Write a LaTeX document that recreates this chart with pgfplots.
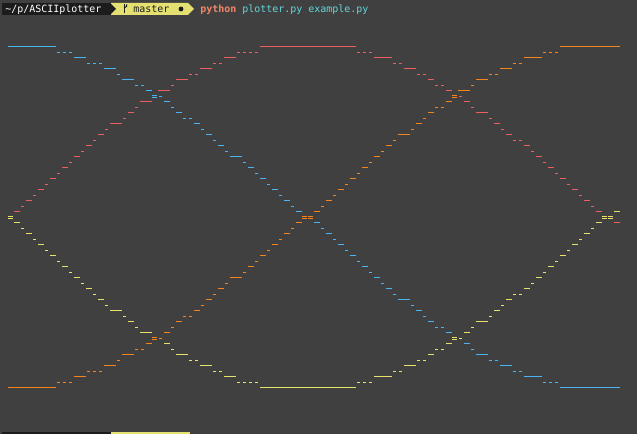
\documentclass[border=0pt]{standalone}
\usepackage{fontspec}
\usepackage{pgfplots}
\pgfplotsset{compat=1.18}
\newfontfamily\term{DejaVu Sans Mono}
\definecolor{bg}{HTML}{404040}
\definecolor{cblue}{HTML}{4AB4F2}
\definecolor{cred}{HTML}{EE5E5E}
\definecolor{corange}{HTML}{F5841F}
\definecolor{cyellow}{HTML}{E6E26A}
\definecolor{barblack}{HTML}{1C1C1C}
\definecolor{baryellow}{HTML}{E4E072}
\definecolor{cpython}{HTML}{F0876A}
\definecolor{ccyan}{HTML}{63D6DA}
% ASCII glyph marks: "_" full cell, "-" short, "=" double (aligned to the pixel grid)
\pgfdeclareplotmark{us}{\pgfpathmoveto{\pgfqpoint{-2.25pt}{0pt}}\pgfpathlineto{\pgfqpoint{2.25pt}{0pt}}\pgfusepathqstroke}
\pgfdeclareplotmark{ds}{\pgfpathmoveto{\pgfqpoint{-1.5pt}{-0.375pt}}\pgfpathlineto{\pgfqpoint{0.75pt}{-0.375pt}}\pgfusepathqstroke}
\pgfdeclareplotmark{eq}{\pgfpathmoveto{\pgfqpoint{-2.25pt}{0.375pt}}\pgfpathlineto{\pgfqpoint{1.5pt}{0.375pt}}\pgfpathmoveto{\pgfqpoint{-2.25pt}{-1.125pt}}\pgfpathlineto{\pgfqpoint{1.5pt}{-1.125pt}}\pgfusepathqstroke}
\pgfplotsset{
  usc/.style={only marks, mark=us, mark options={line width=0.75pt, solid, line cap=butt}},
  dsh/.style={only marks, mark=ds, mark options={line width=0.75pt, solid, line cap=butt}},
  eqs/.style={only marks, mark=eq, mark options={line width=0.75pt, solid, line cap=butt}},
}
\begin{document}
\begin{tikzpicture}[x=0.75pt,y=-0.75pt]
\useasboundingbox (0,0) rectangle (637,434);
\fill[bg] (0,0) rectangle (637,434);
% prompt bar
\fill[barblack] (2,3) rectangle (111,15);
\fill[baryellow] (111,3) -- (188,3) -- (194,9) -- (188,15) -- (111,15) -- cycle;
\fill[barblack] (110,3) -- (116,9) -- (110,15) -- cycle;
\node[anchor=base west, inner sep=0, text=white, font=\term\fontsize{7.48pt}{9pt}\selectfont] at (5,12.5) {\textasciitilde/p/ASCIIplotter};
\draw[barblack, line width=0.75pt] (124,4.5) -- (124,13.5);
\draw[barblack, line width=0.75pt] (124,8) -- (126.5,6.5) -- (126.5,4.5);
\node[anchor=base west, inner sep=0, text=barblack, font=\term\fontsize{7.48pt}{9pt}\selectfont] at (133,12.5) {master};
\fill[barblack] (181,9) circle (2.4);
\node[anchor=base west, inner sep=0, text=cpython, font=\term\bfseries\fontsize{7.48pt}{9pt}\selectfont] at (200,12.5) {python};
\node[anchor=base west, inner sep=0, text=ccyan, font=\term\fontsize{7.48pt}{9pt}\selectfont] at (242,12.5) {plotter.py example.py};
% next prompt, cut off
\fill[barblack] (2,432) rectangle (111,434);
\fill[baryellow] (111,432) rectangle (190,434);
\begin{axis}[at={(0pt,0pt)}, anchor=north west, scale only axis,
  width=477.75pt, height=325.5pt,
  xmin=-1.8333333, xmax=104.3333333,
  ymin=-8.4545455, ymax=70.4545455, y dir=reverse,
  axis lines=none, clip=false]
% red (sin)
\addplot[usc, color=cred] coordinates {(1,30)(3,28)(5,26)(7,24)(9,22)(11,20)(13,18)(15,16)(17,14)(18,14)(20,12)(22,10)(23,10)(25,8)(26,8)(28,6)(29,6)(32,4)(33,4)(36,2)(37,2)(42,0)(43,0)(44,0)(45,0)(46,0)(47,0)(48,0)(49,0)(50,0)(51,0)(52,0)(53,0)(54,0)(55,0)(56,0)(57,0)(61,2)(62,2)(63,2)(66,4)(67,4)(70,6)(73,8)(76,10)(78,12)(79,12)(81,14)(83,16)(86,18)(88,20)(90,22)(92,24)(94,26)(96,28)(98,30)(101,32)};
\addplot[dsh, color=cred] coordinates {(2,29)(4,27)(6,25)(8,23)(10,21)(12,19)(14,17)(16,15)(19,13)(21,11)(27,7)(30,5)(31,5)(34,3)(35,3)(38,1)(39,1)(40,1)(41,1)(58,1)(59,1)(60,1)(64,3)(65,3)(68,5)(69,5)(71,7)(72,7)(75,9)(77,11)(80,13)(82,15)(84,17)(85,17)(87,19)(89,21)(91,23)(93,25)(95,27)(97,29)};
% blue (cos)
\addplot[usc, color=cblue] coordinates {(0,0)(1,0)(2,0)(3,0)(4,0)(5,0)(6,0)(7,0)(11,2)(12,2)(16,4)(17,4)(19,6)(20,6)(23,8)(26,10)(28,12)(31,14)(33,16)(35,18)(37,20)(38,20)(40,22)(42,24)(44,26)(46,28)(48,30)(51,32)(53,34)(55,36)(57,38)(59,40)(61,42)(63,44)(65,46)(66,46)(68,48)(70,50)(73,52)(76,54)(78,56)(79,56)(82,58)(83,58)(86,60)(87,60)(88,60)(92,62)(93,62)(94,62)(95,62)(96,62)(97,62)(98,62)(99,62)(100,62)(101,62)};
\addplot[dsh, color=cblue] coordinates {(8,1)(9,1)(10,1)(13,3)(14,3)(15,3)(18,5)(21,7)(22,7)(25,9)(27,11)(29,13)(30,13)(32,15)(34,17)(36,19)(39,21)(41,23)(43,25)(45,27)(47,29)(52,33)(54,35)(56,37)(58,39)(60,41)(62,43)(64,45)(67,47)(69,49)(71,51)(72,51)(77,55)(80,57)(81,57)(84,59)(85,59)(89,61)(90,61)(91,61)};
\addplot[eqs, color=cblue] coordinates {(24,9)};
% yellow (-sin)
\addplot[usc, color=cyellow] coordinates {(1,32)(3,34)(5,36)(7,38)(9,40)(11,42)(13,44)(15,46)(17,48)(18,48)(20,50)(22,52)(23,52)(26,54)(28,56)(29,56)(32,58)(33,58)(36,60)(37,60)(42,62)(43,62)(44,62)(45,62)(46,62)(47,62)(48,62)(49,62)(50,62)(51,62)(52,62)(53,62)(54,62)(55,62)(56,62)(57,62)(61,60)(62,60)(63,60)(66,58)(67,58)(70,56)(73,54)(76,52)(78,50)(79,50)(81,48)(83,46)(86,44)(88,42)(90,40)(92,38)(94,36)(96,34)(98,32)(101,30)};
\addplot[dsh, color=cyellow] coordinates {(2,33)(4,35)(6,37)(8,39)(10,41)(12,43)(14,45)(16,47)(19,49)(21,51)(27,55)(30,57)(31,57)(34,59)(35,59)(38,61)(39,61)(40,61)(41,61)(58,61)(59,61)(60,61)(64,59)(65,59)(68,57)(69,57)(71,55)(72,55)(75,53)(77,51)(80,49)(82,47)(84,45)(85,45)(87,43)(89,41)(91,39)(93,37)(95,35)(97,33)};
\addplot[eqs, color=cyellow] coordinates {(0,31)(74,53)(99,31)(100,31)};
% orange (-cos)
\addplot[usc, color=corange] coordinates {(0,62)(1,62)(2,62)(3,62)(4,62)(5,62)(6,62)(7,62)(11,60)(12,60)(16,58)(17,58)(19,56)(20,56)(23,54)(26,52)(28,50)(31,48)(33,46)(35,44)(37,42)(38,42)(40,40)(42,38)(44,36)(46,34)(48,32)(51,30)(53,28)(55,26)(57,24)(59,22)(61,20)(63,18)(65,16)(66,16)(68,14)(70,12)(73,10)(75,8)(76,8)(78,6)(79,6)(82,4)(83,4)(86,2)(87,2)(88,2)(92,0)(93,0)(94,0)(95,0)(96,0)(97,0)(98,0)(99,0)(100,0)(101,0)};
\addplot[dsh, color=corange] coordinates {(8,61)(9,61)(10,61)(13,59)(14,59)(15,59)(18,57)(21,55)(22,55)(25,53)(27,51)(29,49)(30,49)(32,47)(34,45)(36,43)(39,41)(41,39)(43,37)(45,35)(47,33)(52,29)(54,27)(56,25)(58,23)(60,21)(62,19)(64,17)(67,15)(69,13)(71,11)(72,11)(77,7)(80,5)(81,5)(84,3)(85,3)(89,1)(90,1)(91,1)};
\addplot[eqs, color=corange] coordinates {(24,53)(49,31)(50,31)(74,9)};
\end{axis}
\end{tikzpicture}
\end{document}
